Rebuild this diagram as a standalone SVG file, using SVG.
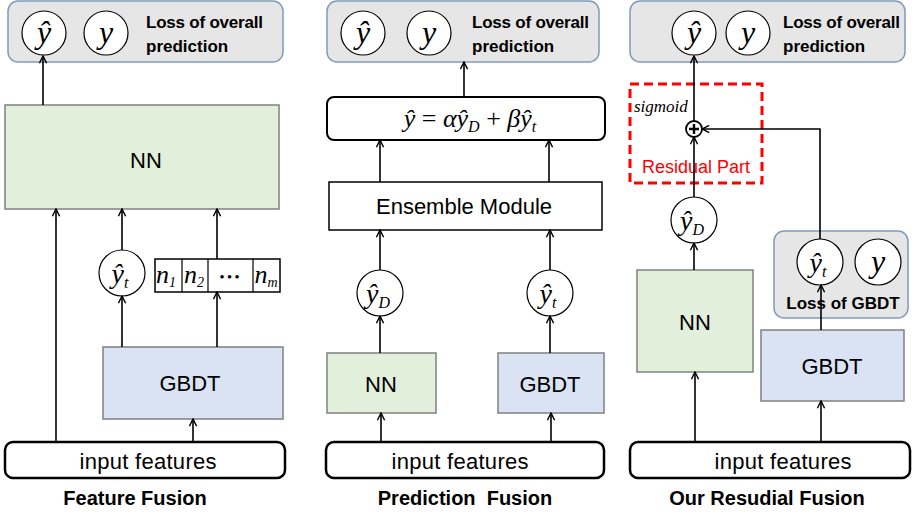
<svg xmlns="http://www.w3.org/2000/svg" width="916" height="515" viewBox="0 0 916 515">
  <defs>
    <marker id="arr" viewBox="0 0 10 10" refX="9" refY="5" markerWidth="9" markerHeight="9" markerUnits="userSpaceOnUse" orient="auto">
      <path d="M1,1 L9,5 L1,9" fill="none" stroke="#000" stroke-width="1.6"/>
    </marker>
  </defs>
  <style>
    .loss { fill: #e6e6e6; stroke: #7f9cbb; stroke-width: 1.5; }
    .nn { fill: #e2efda; stroke: #808080; stroke-width: 1.5; }
    .gbdt { fill: #dae3f3; stroke: #808080; stroke-width: 1.5; }
    .box { fill: #fff; stroke: #000; stroke-width: 2; }
    .inp { fill: #fff; stroke: #000; stroke-width: 2.5; }
    .circ { fill: #fff; stroke: #000; stroke-width: 1.2; }
    .edge { fill: none; stroke: #000; stroke-width: 1.6; marker-end: url(#arr); }
    .lbl { font-family: "Liberation Sans", Arial, sans-serif; font-size: 22px; fill: #000; text-anchor: middle; }
    .bold { font-family: "Liberation Sans", Arial, sans-serif; font-size: 17px; font-weight: bold; fill: #000; }
    .title { font-family: "Liberation Sans", Arial, sans-serif; font-size: 20px; font-weight: bold; fill: #000; text-anchor: middle; }
    .math { font-family: "Liberation Serif", "Times New Roman", serif; font-style: italic; font-size: 32px; fill: #000; text-anchor: middle; }
    .m28 { font-size: 28px; }
    .m26 { font-size: 26px; }
    .sub { font-size: 16px; }
    .sub13 { font-size: 14px; }
    .red { font-family: "Liberation Sans", Arial, sans-serif; font-size: 18px; fill: #ff0000; text-anchor: middle; }
  </style>

  <!-- ===== Feature Fusion ===== -->
  <g id="ff-loss">
    <rect class="loss" x="8" y="1" width="275" height="61" rx="10"/>
    <circle class="circ" cx="44" cy="33" r="22"/>
    <text class="math" x="44" y="43">ŷ</text>
    <circle class="circ" cx="106" cy="33" r="22"/>
    <text class="math" x="106" y="43">y</text>
    <text class="bold" x="146" y="28" textLength="117">Loss of overall</text>
    <text class="bold" x="146" y="52">prediction</text>
  </g>
  <g id="ff-nn">
    <rect class="nn" x="5" y="105" width="274" height="104"/>
    <text class="lbl" x="146" y="168">NN</text>
  </g>
  <g id="ff-yt">
    <circle class="circ" cx="122" cy="273" r="23"/>
    <text class="math m28" x="120" y="283">ŷ<tspan class="sub" dy="5">t</tspan></text>
  </g>
  <g id="ff-leaves">
    <rect fill="#fff" stroke="#000" stroke-width="1.5" x="155" y="259" width="125" height="33"/>
    <path d="M182,259 V292 M208,259 V292 M253,259 V292" stroke="#000" stroke-width="1.2"/>
    <text class="math m26" x="166" y="283">n<tspan class="sub13" dy="4">1</tspan></text>
    <text class="math m26" x="194" y="283">n<tspan class="sub13" dy="4">2</tspan></text>
    <text class="math" x="231" y="281" style="font-size:13px;font-style:normal;font-weight:bold;letter-spacing:3px">•••</text>
    <text class="math m26" x="266" y="283">n<tspan class="sub13" dy="4">m</tspan></text>
  </g>
  <g id="ff-gbdt">
    <rect class="gbdt" x="103" y="347" width="180" height="72"/>
    <text class="lbl" x="190" y="391">GBDT</text>
  </g>
  <g id="ff-input">
    <rect class="inp" x="5" y="442" width="280" height="36" rx="8"/>
    <text class="lbl" x="148" y="469" textLength="137">input features</text>
  </g>
  <text class="title" x="135" y="505">Feature Fusion</text>

  <!-- ===== Prediction Fusion ===== -->
  <g id="pf-loss">
    <rect class="loss" x="327" y="1" width="272" height="61" rx="10"/>
    <circle class="circ" cx="363" cy="33" r="22"/>
    <text class="math" x="363" y="43">ŷ</text>
    <circle class="circ" cx="429" cy="33" r="22"/>
    <text class="math" x="429" y="43">y</text>
    <text class="bold" x="472" y="28" textLength="117">Loss of overall</text>
    <text class="bold" x="472" y="52">prediction</text>
  </g>
  <g id="pf-formula">
    <rect class="box" x="327" y="97" width="278" height="43" rx="7"/>
    <text class="math m26" x="470" y="127">ŷ<tspan style="font-style:normal"> = </tspan>αŷ<tspan class="sub" dy="5">D</tspan><tspan dy="-5" style="font-style:normal"> + </tspan>βŷ<tspan class="sub" dy="5">t</tspan></text>
  </g>
  <g id="pf-ensemble">
    <rect fill="#fff" stroke="#000" stroke-width="1.5" x="329" y="182" width="273" height="48"/>
    <text class="lbl" x="464" y="214" textLength="176">Ensemble Module</text>
  </g>
  <g id="pf-yd">
    <circle class="circ" cx="380" cy="293" r="23"/>
    <text class="math m28" x="378" y="303">ŷ<tspan class="sub" dy="5">D</tspan></text>
  </g>
  <g id="pf-yt">
    <circle class="circ" cx="550" cy="293" r="23"/>
    <text class="math m28" x="548" y="303">ŷ<tspan class="sub" dy="5">t</tspan></text>
  </g>
  <g id="pf-nn">
    <rect class="nn" x="327" y="353" width="109" height="60"/>
    <text class="lbl" x="381" y="392">NN</text>
  </g>
  <g id="pf-gbdt">
    <rect class="gbdt" x="498" y="353" width="106" height="60"/>
    <text class="lbl" x="550" y="392">GBDT</text>
  </g>
  <g id="pf-input">
    <rect class="inp" x="326" y="442" width="278" height="36" rx="8"/>
    <text class="lbl" x="460" y="469" textLength="137">input features</text>
  </g>
  <text class="title" x="465" y="505" xml:space="preserve">Prediction  Fusion</text>

  <!-- ===== Our Residual Fusion ===== -->
  <g id="rf-loss">
    <rect class="loss" x="630" y="1" width="275" height="61" rx="10"/>
    <circle class="circ" cx="694" cy="33" r="22"/>
    <text class="math" x="694" y="43">ŷ</text>
    <circle class="circ" cx="748" cy="33" r="22"/>
    <text class="math" x="748" y="43">y</text>
    <text class="bold" x="783" y="28" textLength="117">Loss of overall</text>
    <text class="bold" x="783" y="52">prediction</text>
  </g>
  <g id="rf-residual">
    <rect x="630" y="84" width="132" height="99" fill="none" stroke="#ff0000" stroke-width="3" stroke-dasharray="9,5"/>
    <text x="634" y="112" font-family="Liberation Serif, Times New Roman, serif" font-style="italic" font-size="17" fill="#000">sigmoid</text>
    <text class="red" x="696" y="173">Residual Part</text>
  </g>
  <g id="rf-plus">
    <circle fill="#fff" stroke="#000" stroke-width="1.8" cx="694" cy="129" r="8"/>
    <path d="M689,129 H699 M694,124 V134" stroke="#000" stroke-width="2.4"/>
  </g>
  <g id="rf-yd">
    <circle class="circ" cx="694" cy="220" r="23"/>
    <text class="math m28" x="692" y="230">ŷ<tspan class="sub" dy="5">D</tspan></text>
  </g>
  <g id="rf-nn">
    <rect class="nn" x="637" y="270" width="116" height="102"/>
    <text class="lbl" x="695" y="330">NN</text>
  </g>
  <g id="rf-gbdt-loss">
    <rect class="loss" x="774" y="231" width="134" height="87" rx="10"/>
    <circle class="circ" cx="820" cy="262" r="23"/>
    <text class="math m28" x="818" y="272">ŷ<tspan class="sub" dy="5">t</tspan></text>
    <circle class="circ" cx="878" cy="262" r="23"/>
    <text class="math" x="878" y="272">y</text>
    <text class="bold" x="843" y="309" text-anchor="middle">Loss of GBDT</text>
  </g>
  <g id="rf-gbdt">
    <rect class="gbdt" x="761" y="330" width="143" height="71"/>
    <text class="lbl" x="832" y="374">GBDT</text>
  </g>
  <g id="rf-input">
    <rect class="inp" x="630" y="442" width="280" height="36" rx="8"/>
    <text class="lbl" x="783" y="469" textLength="137">input features</text>
  </g>
  <text class="title" x="767" y="505">Our Resudial Fusion</text>

  <!-- connectors -->
  <g id="connectors">
    <path class="edge" d="M43,105 V56"/>
    <path class="edge" d="M56,442 V209"/>
    <path class="edge" d="M122,347 V296"/>
    <path class="edge" d="M122,250 V209"/>
    <path class="edge" d="M217,347 V292"/>
    <path class="edge" d="M217,259 V209"/>
    <path class="edge" d="M193,442 V419"/>

    <path class="edge" d="M464,97 V62"/>
    <path class="edge" d="M380,182 V140"/>
    <path class="edge" d="M549,182 V140"/>
    <path class="edge" d="M380,270 V230"/>
    <path class="edge" d="M550,270 V230"/>
    <path class="edge" d="M380,353 V316"/>
    <path class="edge" d="M550,353 V316"/>
    <path class="edge" d="M381,442 V413"/>
    <path class="edge" d="M551,442 V413"/>

    <path class="edge" d="M694,121 V56"/>
    <path class="edge" d="M694,197 V137"/>
    <path class="edge" d="M694,270 V243"/>
    <path class="edge" d="M820,239 V129 H702"/>
    <path class="edge" d="M821,330 V285"/>
    <path class="edge" d="M695,442 V372"/>
    <path class="edge" d="M821,442 V401"/>
  </g>
</svg>
